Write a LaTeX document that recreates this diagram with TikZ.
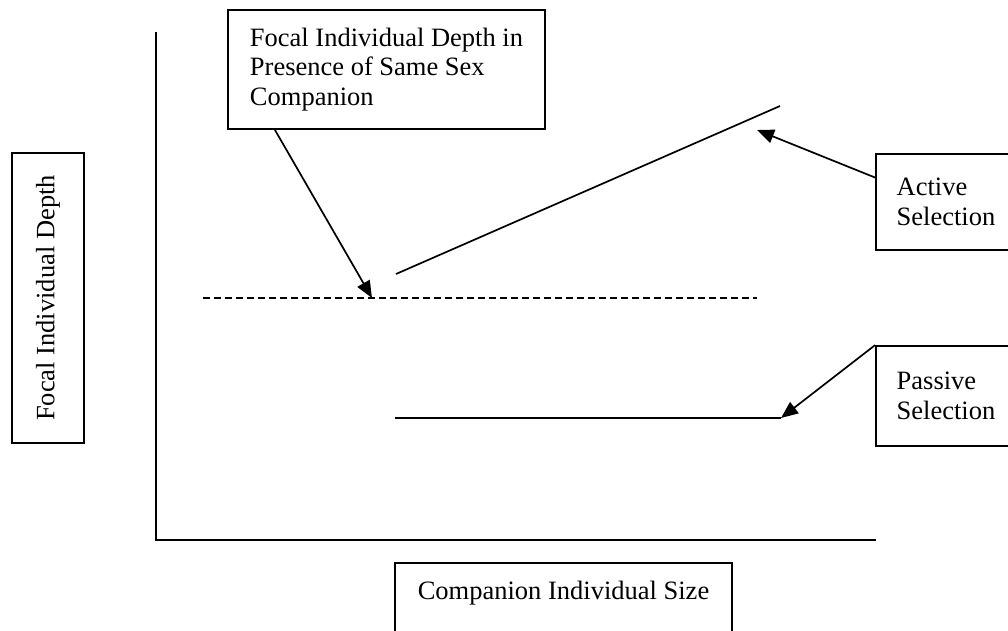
\documentclass[tikz,border=0pt]{standalone}
\usepackage{fontspec}
\setmainfont{Liberation Serif}
\usetikzlibrary{positioning, arrows.meta, calc}

\begin{document}
\begin{tikzpicture}[x=1pt, y=-1pt,
      box/.style={draw, line width=1.8pt, inner sep=0pt, align=left,
                  font=\fontsize{26.5}{29.5}\selectfont},
      arr/.style={-{Triangle[length=17pt, width=14pt]}, line width=1.7pt},
      axis/.style={line width=1.9pt},
      trend/.style={line width=1.7pt}]
    \useasboundingbox (0,0) rectangle (1008,630);
    \clip (0,0) rectangle (1008,630);
    \node[box, minimum width=317pt, minimum height=119pt] (focal) at (386.5,69.5)
      {Focal Individual Depth in\\Presence of Same Sex\\Companion};
    \node[box, minimum width=140pt, minimum height=96pt] (act) at (946,202) {Active\\Selection};
    \node[box, minimum width=140pt, minimum height=100pt] (pas) at (946,396) {Passive\\Selection};
    \node[box, rotate=90, minimum width=290pt, minimum height=72pt] (ylab) at (48,298)
      {Focal Individual Depth};
    \node[box, anchor=north, minimum width=337pt, inner ysep=18pt, text depth=60pt] (xlab)
      at (563.5,562) {Companion Individual Size};
    \coordinate (ytop) at (156,32);
    \coordinate (origin) at (156,540);
    \coordinate (xend) at (876,540);
    \coordinate (dashL) at (203,298);
    \coordinate (dashR) at (757,298);
    \coordinate (dashHit) at (372,298);
    \coordinate (actL) at (396,274);
    \coordinate (actR) at (780,106);
    \coordinate (actHit) at (757,130);
    \coordinate (pasL) at (395,418);
    \coordinate (pasR) at (781,418);
    \draw[axis] (ytop) -- (origin) -- (xend);
    \draw[trend, dash pattern=on 7pt off 4pt] (dashL) -- (dashR);
    \draw[trend] (actL) -- (actR);
    \draw[trend] (pasL) -- (pasR);
    \draw[arr] ($(focal.south west)!0.15!(focal.south east)$) -- (dashHit);
    \draw[arr] ($(act.north west)!0.25!(act.south west)$) -- (actHit);
    \draw[arr] (pas.north west) -- (pasR);
  \end{tikzpicture}
\end{document}
